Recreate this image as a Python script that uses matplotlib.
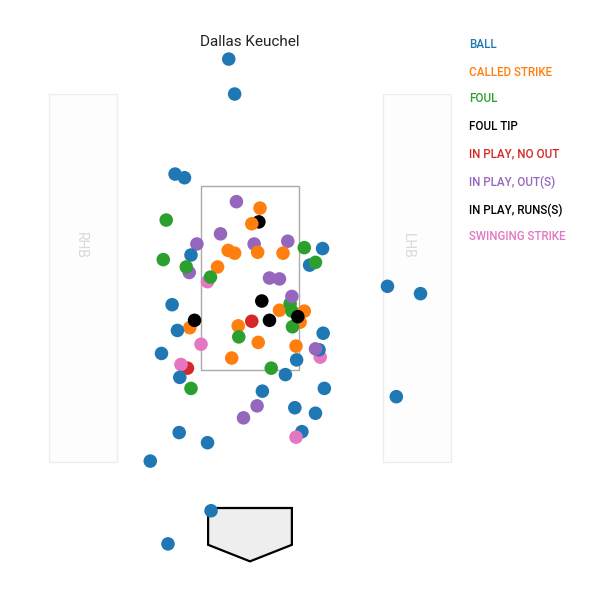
import matplotlib
matplotlib.use("Agg")
import matplotlib.pyplot as plt
from matplotlib.patches import Rectangle, Polygon

plt.rcParams['font.family'] = ['Roboto', 'DejaVu Sans']

title = "Dallas Keuchel"

categories = ["BALL", "CALLED STRIKE", "FOUL", "FOUL TIP", "IN PLAY, NO OUT",
              "IN PLAY, OUT(S)", "IN PLAY, RUNS(S)", "SWINGING STRIKE"]
cat_colors = ["#1f77b4", "#ff7f0e", "#2ca02c", "#000000", "#d62728",
              "#9467bd", "#000000", "#e377c2"]

# pitch location (feet): horizontal plate_x, vertical plate_z, and result code
pitch_x = [-1.27, -1.11, -0.90, -1.00, -1.03, -1.08, 0.15, 0.17, 0.03, -0.23,
           -0.50, 0.07, 0.13, 0.64, 0.56, -0.37, -0.26, -0.55, -0.72, -0.67,
           -1.42, -1.47, 0.92, 1.23, 1.01, 1.11, 0.33, 0.50, 0.20, 0.50,
           0.68, 0.71, 0.71, 0.92, 0.85, 0.72, 0.81, 0.03, 0.33, -0.20,
           -0.19, -1.02, -0.94, -1.32, -1.23, -0.83, 0.14, 1.24, 0.78, 1.19,
           1.17, 1.11, 0.79, -1.50, -0.31, -1.06, -1.17, -1.19, 0.36, 0.60,
           -1.00, 0.21, 1.26, 0.12, 0.76, 1.11, -0.11, -1.20, 0.88, 0.78,
           -0.72, -1.69, -0.66, -1.39, -0.36, -0.26, 2.33, 2.89, 2.48]
pitch_z = [3.63, 3.59, 2.87, 2.75, 2.56, 2.62, 3.11, 3.26, 3.09, 3.33,
           2.98, 2.87, 2.78, 2.90, 2.77, 2.80, 2.77, 2.62, 2.46, 2.51,
           3.13, 2.70, 2.83, 2.82, 2.64, 2.67, 2.50, 2.49, 2.25, 2.15,
           2.22, 2.14, 2.30, 2.14, 2.02, 1.97, 2.08, 2.03, 2.04, 1.98,
           1.86, 1.96, 2.04, 2.21, 1.93, 1.78, 1.80, 1.90, 1.76, 1.64,
           1.72, 1.73, 1.61, 1.68, 1.63, 1.52, 1.56, 1.42, 1.52, 1.45,
           1.30, 1.27, 1.30, 1.11, 1.09, 1.03, 0.98, 0.82, 0.83, 0.77,
           0.71, 0.51, -0.03, -0.39, 4.88, 4.50, 2.41, 2.33, 1.21]
pitch_result = [0, 0, 5, 0, 5, 2, 3, 1, 1, 5,
                5, 5, 1, 5, 1, 1, 1, 1, 7, 2,
                2, 2, 2, 0, 0, 2, 5, 5, 6, 1,
                2, 2, 5, 1, 1, 2, 3, 4, 6, 1,
                2, 1, 3, 0, 0, 7, 1, 0, 1, 7,
                0, 5, 0, 0, 1, 4, 7, 0, 2, 0,
                2, 0, 0, 5, 0, 0, 5, 0, 0, 7,
                0, 0, 0, 0, 0, 0, 0, 0, 0]

# strike zone and field geometry (feet)
zone_x = [-0.83, 0.83]
zone_z = [1.5, 3.5]
box_x_rhb = [-3.41, -2.25]
box_x_lhb = [2.25, 3.41]
box_z = [0.50, 4.50]
label_x = {"RHB": -2.87, "LHB": 2.67}
plate_x = [-0.71, 0.71, 0.71, 0.0, -0.71]
plate_z = [0.0, 0.0, -0.40, -0.58, -0.40]

fig = plt.figure(figsize=(6, 6), dpi=100)
ax = fig.add_axes([0, 0, 1, 1])
ax.set_xlim(-4.237, 5.932)
ax.set_ylim(-1.0, 5.522)
ax.axis("off")

for bx, lab in [(box_x_rhb, "RHB"), (box_x_lhb, "LHB")]:
    ax.add_patch(Rectangle((bx[0], box_z[0]), bx[1] - bx[0], box_z[1] - box_z[0],
                           facecolor="#fdfdfd", edgecolor="#ededed", lw=0.9, zorder=1))
    ax.text(label_x[lab], 2.85, lab, rotation=-90, ha="center", va="center",
            color="#d9d9d9", fontsize=10, zorder=2)

ax.add_patch(Rectangle((zone_x[0], zone_z[0]), zone_x[1] - zone_x[0], zone_z[1] - zone_z[0],
                       facecolor="none", edgecolor="#aaaaaa", lw=1.0, zorder=2))

ax.add_patch(Polygon(list(zip(plate_x, plate_z)), closed=True, facecolor="#eeeeee",
                     edgecolor="black", lw=1.6, zorder=2))

colors = [cat_colors[r] for r in pitch_result]
ax.scatter(pitch_x, pitch_z, s=95, c=colors, linewidths=0, zorder=3)

ax.text(0.0, 5.065, title, ha="center", va="center", fontsize=11, color="#222222", zorder=4)

legend_y = [44, 72, 99, 127, 154, 182, 210, 237]
for lab, col, yy in zip(categories, cat_colors, legend_y):
    fig.text(469 / 600, 1 - yy / 600, lab, ha="left", va="center", color=col,
             fontsize=8.35, fontweight="medium")

fig.savefig("out.png", dpi=100)
